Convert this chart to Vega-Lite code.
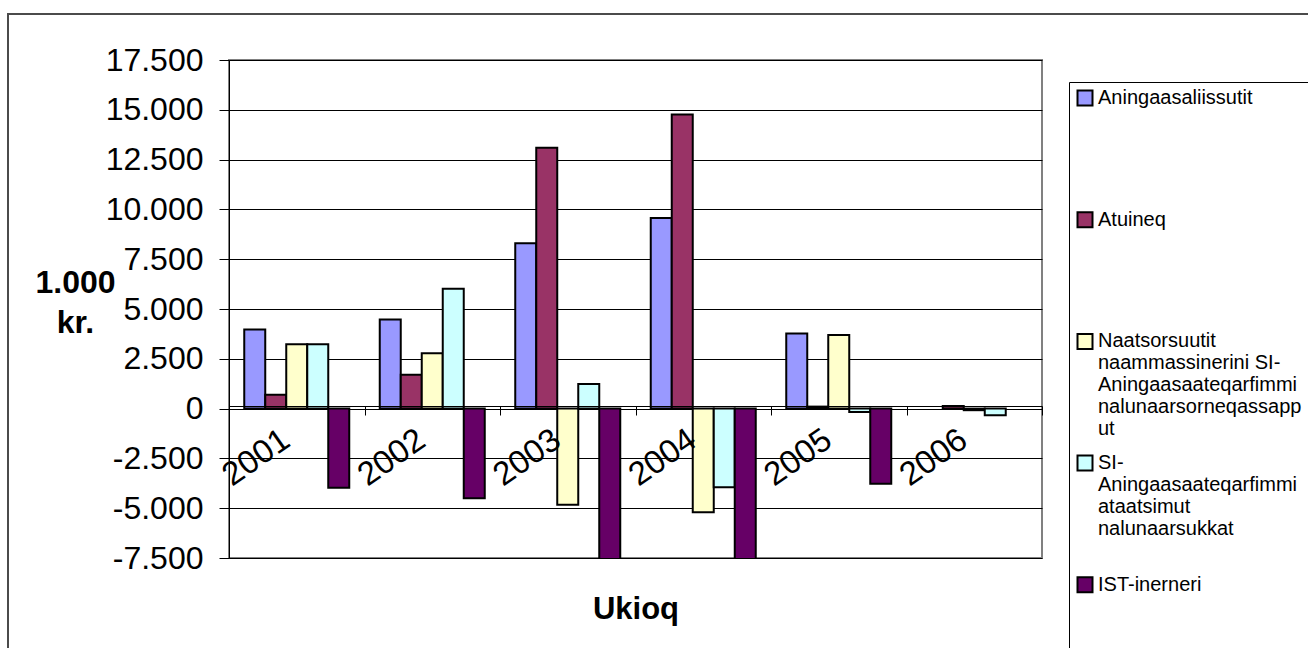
{
  "$schema": "https://vega.github.io/schema/vega-lite/v6.json",
  "width": 813,
  "height": 498,
  "autosize": {"type": "none"},
  "padding": {"left": 229, "top": 60, "right": 266, "bottom": 90},
  "background": "white",
  "config": {
    "view": {"stroke": "#808080", "strokeWidth": 2},
    "font": "Liberation Sans"
  },
  "data": {
    "values": [
      {"year": "2001", "series": "Aningaasaliissutit", "value": 3970},
      {"year": "2001", "series": "Atuineq", "value": 700},
      {"year": "2001", "series": "Naatsorsuutit naammassinerini SI-Aningaasaateqarfimmi nalunaarsorneqassapput", "value": 3230},
      {"year": "2001", "series": "SI-Aningaasaateqarfimmi ataatsimut nalunaarsukkat", "value": 3230},
      {"year": "2001", "series": "IST-inerneri", "value": -3970},
      {"year": "2002", "series": "Aningaasaliissutit", "value": 4470},
      {"year": "2002", "series": "Atuineq", "value": 1700},
      {"year": "2002", "series": "Naatsorsuutit naammassinerini SI-Aningaasaateqarfimmi nalunaarsorneqassapput", "value": 2780},
      {"year": "2002", "series": "SI-Aningaasaateqarfimmi ataatsimut nalunaarsukkat", "value": 6020},
      {"year": "2002", "series": "IST-inerneri", "value": -4500},
      {"year": "2003", "series": "Aningaasaliissutit", "value": 8300},
      {"year": "2003", "series": "Atuineq", "value": 13100},
      {"year": "2003", "series": "Naatsorsuutit naammassinerini SI-Aningaasaateqarfimmi nalunaarsorneqassapput", "value": -4830},
      {"year": "2003", "series": "SI-Aningaasaateqarfimmi ataatsimut nalunaarsukkat", "value": 1240},
      {"year": "2003", "series": "IST-inerneri", "value": -9000},
      {"year": "2004", "series": "Aningaasaliissutit", "value": 9570},
      {"year": "2004", "series": "Atuineq", "value": 14760},
      {"year": "2004", "series": "Naatsorsuutit naammassinerini SI-Aningaasaateqarfimmi nalunaarsorneqassapput", "value": -5200},
      {"year": "2004", "series": "SI-Aningaasaateqarfimmi ataatsimut nalunaarsukkat", "value": -3950},
      {"year": "2004", "series": "IST-inerneri", "value": -9000},
      {"year": "2005", "series": "Aningaasaliissutit", "value": 3770},
      {"year": "2005", "series": "Atuineq", "value": 100},
      {"year": "2005", "series": "Naatsorsuutit naammassinerini SI-Aningaasaateqarfimmi nalunaarsorneqassapput", "value": 3700},
      {"year": "2005", "series": "SI-Aningaasaateqarfimmi ataatsimut nalunaarsukkat", "value": -170},
      {"year": "2005", "series": "IST-inerneri", "value": -3770},
      {"year": "2006", "series": "Atuineq", "value": 130},
      {"year": "2006", "series": "Naatsorsuutit naammassinerini SI-Aningaasaateqarfimmi nalunaarsorneqassapput", "value": -80},
      {"year": "2006", "series": "SI-Aningaasaateqarfimmi ataatsimut nalunaarsukkat", "value": -330}
    ]
  },
  "layer": [
    {
      "mark": {"type": "bar", "stroke": "black", "strokeWidth": 2, "clip": true},
      "encoding": {
        "x": {
          "field": "year",
          "type": "nominal",
          "scale": {"paddingInner": 0, "paddingOuter": 0},
          "axis": {
            "orient": "bottom",
            "offset": -152,
            "zindex": 1,
            "title": "Ukioq",
            "titleFontSize": 31,
            "titleFontWeight": "bold",
            "titleColor": "black",
            "titleX": 406.5,
            "titleY": 212,
            "titleAlign": "center",
            "titleBaseline": "alphabetic",
            "labelAngle": -35,
            "labelAlign": "right",
            "labelBaseline": "top",
            "labelFontSize": 33,
            "labelColor": "black",
            "labelPadding": 8,
            "labelOffset": -20,
            "labelOverlap": false,
            "labelBound": false,
            "labelFlush": false,
            "tickBand": "extent",
            "tickSize": 9,
            "tickColor": "black",
            "domainColor": "black",
            "domainWidth": 1,
            "grid": false
          }
        },
        "xOffset": {
          "field": "series",
          "type": "nominal",
          "sort": ["Aningaasaliissutit", "Atuineq", "Naatsorsuutit naammassinerini SI-Aningaasaateqarfimmi nalunaarsorneqassapput", "SI-Aningaasaateqarfimmi ataatsimut nalunaarsukkat", "IST-inerneri"],
          "scale": {"paddingInner": 0, "paddingOuter": 0.726}
        },
        "y": {
          "field": "value",
          "type": "quantitative",
          "scale": {"domain": [-7500, 17500], "nice": false, "zero": false},
          "axis": {
            "values": [-7500, -5000, -2500, 0, 2500, 5000, 7500, 10000, 12500, 15000, 17500],
            "grid": true,
            "gridColor": "black",
            "gridWidth": 1,
            "gridOpacity": 1,
            "tickSize": 10,
            "tickColor": "black",
            "domainColor": "black",
            "labelFontSize": 32,
            "labelColor": "black",
            "labelPadding": 16,
            "labelExpr": "(datum.value < 0 ? '-' : '') + replace(format(abs(datum.value), ','), ',', '.')",
            "title": ["1.000", "kr."],
            "titleFontSize": 32,
            "titleFontWeight": "bold",
            "titleColor": "black",
            "titleAngle": 0,
            "titleAlign": "center",
            "titleBaseline": "alphabetic",
            "titleLineHeight": 40,
            "titleX": -154,
            "titleY": 232
          }
        },
        "fill": {
          "field": "series",
          "type": "nominal",
          "scale": {
            "domain": ["Aningaasaliissutit", "Atuineq", "Naatsorsuutit naammassinerini SI-Aningaasaateqarfimmi nalunaarsorneqassapput", "SI-Aningaasaateqarfimmi ataatsimut nalunaarsukkat", "IST-inerneri"],
            "range": ["#9999FF", "#993366", "#FFFFCC", "#CCFFFF", "#660066"]
          },
          "legend": {
            "orient": "none",
            "legendX": 840,
            "legendY": 22,
            "title": null,
            "strokeColor": "black",
            "fillColor": "white",
            "padding": 6,
            "symbolType": "square",
            "symbolSize": 225,
            "symbolStrokeColor": "black",
            "symbolStrokeWidth": 2,
            "symbolOpacity": 1,
            "labelFontSize": 20,
            "labelColor": "black",
            "labelLimit": 1000,
            "labelOffset": 3,
            "labelBaseline": "middle",
            "rowPadding": 11.7,
            "gridAlign": "all",
            "labelExpr": "datum.label == 'Naatsorsuutit naammassinerini SI-Aningaasaateqarfimmi nalunaarsorneqassapput' ? ['Naatsorsuutit', 'naammassinerini SI-', 'Aningaasaateqarfimmi', 'nalunaarsorneqassapp', 'ut'] : datum.label == 'SI-Aningaasaateqarfimmi ataatsimut nalunaarsukkat' ? ['SI-', 'Aningaasaateqarfimmi', 'ataatsimut', 'nalunaarsukkat'] : datum.label == 'IST-inerneri' ? ['IST-inerneri', ' ', ' ', ' ', ' '] : datum.label"
          }
        }
      }
    },
    {
      "mark": {"type": "point", "size": 0, "filled": false},
      "encoding": {
        "stroke": {
          "field": "value",
          "type": "quantitative",
          "scale": {"range": ["rgba(0,0,0,0)", "rgba(0,0,0,0)"]},
          "legend": {
            "orient": "none",
            "legendX": -221,
            "legendY": -46,
            "direction": "horizontal",
            "title": null,
            "padding": 0,
            "gradientLength": 1400,
            "gradientThickness": 700,
            "gradientStrokeColor": "black",
            "gradientStrokeWidth": 2,
            "labelExpr": "''",
            "labelFontSize": 1
          }
        }
      }
    }
  ]
}
